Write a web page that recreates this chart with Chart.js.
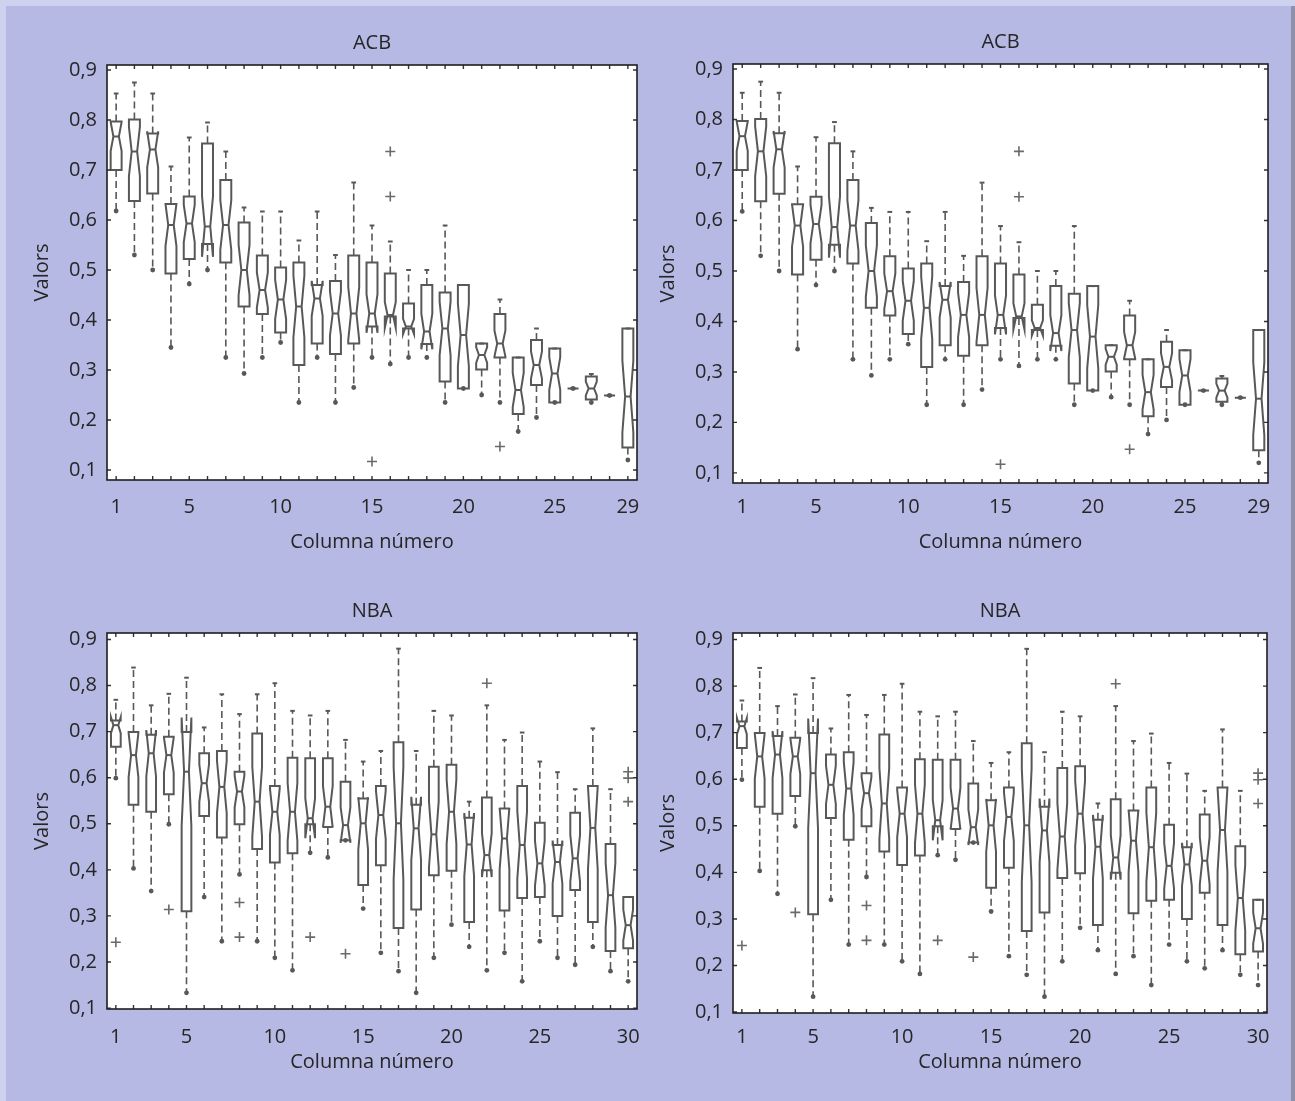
<!DOCTYPE html>
<html>
<head>
<meta charset="utf-8">
<script src="https://cdn.jsdelivr.net/npm/chart.js@4"></script>
<style>
  body {
    margin: 0;
    width: 1295px;
    height: 1101px;
    overflow: hidden;
    position: relative;
    background: #cfd2ee;
  }
  #bg {
    position: absolute;
    left: 6px;
    top: 6px;
    width: 1286px;
    height: 1095px;
    background: #b5b9e3;
  }
  #edge {
    position: absolute;
    left: 1291px;
    top: 6px;
    width: 4px;
    height: 1095px;
    background: #8f91ab;
  }
  canvas {
    position: absolute;
  }
</style>
</head>
<body>
<div id="bg"></div>
<div id="edge"></div>
<canvas id="acbLeft"></canvas>
<canvas id="acbRight"></canvas>
<canvas id="nbaLeft"></canvas>
<canvas id="nbaRight"></canvas>
<script>
// ..........................ACB (29 columns)...................
const acbHigh = [0.853, 0.875, 0.853, 0.707, 0.765, 0.795, 0.737, 0.625, 0.617, 0.617,
  0.559, 0.617, 0.53, 0.675, 0.589, 0.557, 0.5, 0.5, 0.589, 0.47,
  0.353, 0.441, 0.325, 0.383, 0.343, 0.263, 0.292, 0.249, 0.383];
const acbQ3 = [0.797, 0.801, 0.773, 0.632, 0.647, 0.753, 0.68, 0.595, 0.529, 0.505,
  0.515, 0.47, 0.478, 0.529, 0.515, 0.493, 0.433, 0.47, 0.455, 0.47,
  0.353, 0.412, 0.325, 0.36, 0.343, 0.263, 0.287, 0.249, 0.383];
const acbMedian = [0.767, 0.737, 0.741, 0.59, 0.593, 0.587, 0.59, 0.5, 0.46, 0.441,
  0.427, 0.443, 0.413, 0.413, 0.413, 0.41, 0.387, 0.377, 0.383, 0.37,
  0.33, 0.353, 0.26, 0.31, 0.293, 0.263, 0.263, 0.249, 0.247];
const acbQ1 = [0.7, 0.638, 0.653, 0.493, 0.522, 0.552, 0.515, 0.427, 0.412, 0.375,
  0.31, 0.353, 0.332, 0.353, 0.387, 0.407, 0.383, 0.352, 0.277, 0.263,
  0.301, 0.325, 0.212, 0.27, 0.235, 0.263, 0.241, 0.249, 0.145];
const acbLow = [0.618, 0.53, 0.5, 0.345, 0.472, 0.5, 0.325, 0.293, 0.325, 0.355,
  0.235, 0.325, 0.235, 0.265, 0.325, 0.312, 0.325, 0.325, 0.235, 0.263,
  0.25, 0.235, 0.177, 0.205, 0.235, 0.263, 0.235, 0.249, 0.12];
const acbOutlierCols = [15, 16, 16, 22];
const acbOutlierVals = [0.117, 0.737, 0.647, 0.147];
const acbTickLabels = [1, 5, 10, 15, 20, 25, 29];

// ..........................NBA (30 columns)...................
const nbaHigh = [0.769, 0.839, 0.757, 0.782, 0.817, 0.709, 0.781, 0.738, 0.781, 0.805,
  0.745, 0.735, 0.745, 0.682, 0.635, 0.658, 0.88, 0.658, 0.745, 0.735,
  0.548, 0.757, 0.682, 0.698, 0.635, 0.612, 0.575, 0.707, 0.575, 0.341];
const nbaQ3 = [0.724, 0.699, 0.693, 0.689, 0.699, 0.653, 0.658, 0.613, 0.696, 0.582,
  0.643, 0.642, 0.642, 0.591, 0.555, 0.582, 0.677, 0.541, 0.624, 0.628,
  0.513, 0.557, 0.533, 0.582, 0.502, 0.454, 0.524, 0.582, 0.456, 0.341];
const nbaMedian = [0.714, 0.649, 0.653, 0.649, 0.613, 0.588, 0.58, 0.57, 0.548, 0.526,
  0.526, 0.512, 0.537, 0.497, 0.501, 0.519, 0.501, 0.49, 0.477, 0.526,
  0.455, 0.432, 0.468, 0.454, 0.414, 0.417, 0.425, 0.491, 0.345, 0.28];
const nbaQ1 = [0.667, 0.541, 0.526, 0.564, 0.31, 0.517, 0.47, 0.499, 0.445, 0.416,
  0.436, 0.499, 0.493, 0.464, 0.367, 0.41, 0.274, 0.314, 0.388, 0.398,
  0.287, 0.399, 0.312, 0.339, 0.341, 0.3, 0.356, 0.287, 0.224, 0.23];
const nbaLow = [0.599, 0.403, 0.354, 0.499, 0.133, 0.341, 0.245, 0.39, 0.245, 0.209,
  0.182, 0.437, 0.427, 0.464, 0.316, 0.22, 0.18, 0.133, 0.209, 0.281,
  0.233, 0.182, 0.22, 0.158, 0.245, 0.209, 0.194, 0.233, 0.18, 0.158];
const nbaOutlierCols = [1, 4, 8, 8, 12, 14, 22, 30, 30, 30];
const nbaOutlierVals = [0.243, 0.314, 0.329, 0.254, 0.254, 0.218, 0.805, 0.613, 0.599, 0.548];
const nbaTickLabels = [1, 5, 10, 15, 20, 25, 30];

const yTickValues = [0.1, 0.2, 0.3, 0.4, 0.5, 0.6, 0.7, 0.8, 0.9];

const textColor = "#262626";
const boxColor = "#585858";
const notchN = 27;

Chart.defaults.font.family = "'Open Sans', sans-serif";
Chart.defaults.font.size = 20;
Chart.defaults.color = textColor;

// draws the white plot area, the notched boxes, the frame and the inward tick marks
function boxPlotPlugin(stats, boxWidth) {
  return {
    id: "boxPlot",
    beforeDatasetsDraw(chart) {
      const ctx = chart.ctx;
      const area = chart.chartArea;
      ctx.save();
      ctx.fillStyle = "#ffffff";
      ctx.fillRect(area.left, area.top, area.right - area.left, area.bottom - area.top);
      ctx.restore();
    },
    afterDatasetsDraw(chart) {
      const ctx = chart.ctx;
      const x = chart.scales.x;
      const y = chart.scales.y;
      ctx.save();
      ctx.strokeStyle = boxColor;
      ctx.fillStyle = boxColor;
      stats.median.forEach((med, i) => {
        const col = i + 1;
        const cx = x.getPixelForValue(col);
        const left = x.getPixelForValue(col - boxWidth / 2);
        const right = x.getPixelForValue(col + boxWidth / 2);
        const innerL = x.getPixelForValue(col - boxWidth / 4);
        const innerR = x.getPixelForValue(col + boxWidth / 4);
        const notch = (1.57 * (stats.q3[i] - stats.q1[i])) / Math.sqrt(notchN);

        const pHigh = y.getPixelForValue(stats.high[i]);
        const pQ3 = y.getPixelForValue(stats.q3[i]);
        const pMed = y.getPixelForValue(med);
        const pQ1 = y.getPixelForValue(stats.q1[i]);
        const pLow = y.getPixelForValue(stats.low[i]);
        const pNhi = y.getPixelForValue(med + notch);
        const pNlo = y.getPixelForValue(med - notch);

        // whiskers
        ctx.lineWidth = 1.6;
        ctx.setLineDash([7, 4]);
        ctx.beginPath();
        ctx.moveTo(cx, pQ3);
        ctx.lineTo(cx, pHigh);
        ctx.moveTo(cx, pQ1);
        ctx.lineTo(cx, pLow);
        ctx.stroke();
        ctx.setLineDash([]);

        ctx.lineWidth = 2;
        ctx.beginPath();
        ctx.moveTo(x.getPixelForValue(col - 0.13), pHigh);
        ctx.lineTo(x.getPixelForValue(col + 0.13), pHigh);
        ctx.stroke();
        ctx.beginPath();
        ctx.arc(cx, pLow, 2.4, 0, Math.PI * 2);
        ctx.fill();

        // notched box
        ctx.lineWidth = 2;
        ctx.beginPath();
        ctx.moveTo(left, pQ1);
        ctx.lineTo(left, pNlo);
        ctx.lineTo(innerL, pMed);
        ctx.lineTo(left, pNhi);
        ctx.lineTo(left, pQ3);
        ctx.lineTo(right, pQ3);
        ctx.lineTo(right, pNhi);
        ctx.lineTo(innerR, pMed);
        ctx.lineTo(right, pNlo);
        ctx.lineTo(right, pQ1);
        ctx.closePath();
        ctx.stroke();

        ctx.beginPath();
        ctx.moveTo(innerL, pMed);
        ctx.lineTo(innerR, pMed);
        ctx.stroke();
      });
      ctx.restore();
    },
    afterDraw(chart) {
      const ctx = chart.ctx;
      const area = chart.chartArea;
      const x = chart.scales.x;
      const y = chart.scales.y;
      const tick = 4;
      ctx.save();
      ctx.strokeStyle = "#333";
      ctx.lineWidth = 1.4;
      ctx.beginPath();
      stats.median.forEach((m, i) => {
        const px = x.getPixelForValue(i + 1);
        ctx.moveTo(px, area.bottom);
        ctx.lineTo(px, area.bottom - tick);
        ctx.moveTo(px, area.top);
        ctx.lineTo(px, area.top + tick);
      });
      yTickValues.forEach((v) => {
        const py = y.getPixelForValue(v);
        ctx.moveTo(area.left, py);
        ctx.lineTo(area.left + tick, py);
        ctx.moveTo(area.right, py);
        ctx.lineTo(area.right - tick, py);
      });
      ctx.stroke();
      ctx.strokeStyle = "#1e1e1e";
      ctx.lineWidth = 1.6;
      ctx.strokeRect(area.left, area.top, area.right - area.left, area.bottom - area.top);
      ctx.restore();
    },
  };
}

function createPanel(canvasId, place, title, stats, outCols, outVals, tickLabels, yMin, yMax) {
  const columns = stats.median.length;
  const canvas = document.getElementById(canvasId);
  canvas.width = 100 + place.width + 20;
  canvas.height = 60 + place.height + 80;
  canvas.style.left = place.left - 100 + "px";
  canvas.style.top = place.top - 60 + "px";

  const config = {
    type: "scatter",
    data: {
      datasets: [
        {
          data: outCols.map((c, i) => ({ x: c, y: outVals[i] })),
          pointStyle: "cross",
          pointRadius: 5,
          borderColor: "#6a6a6a",
          borderWidth: 1.6,
        },
      ],
    },
    options: {
      responsive: false,
      animation: false,
      layout: { padding: { left: 0, right: 20, top: 0, bottom: 0 } },
      plugins: {
        legend: { display: false },
        tooltip: { enabled: false },
        title: {
          display: true,
          text: title,
          fullSize: false,
          color: textColor,
          font: { size: 20, weight: "normal" },
          padding: { top: 26, bottom: 10 },
        },
      },
      scales: {
        x: {
          type: "linear",
          min: 0.5,
          max: columns + 0.5,
          afterBuildTicks: (axis) => {
            axis.ticks = tickLabels.map((v) => ({ value: v }));
          },
          afterFit: (axis) => {
            axis.height = 80;
          },
          grid: { display: false, drawTicks: false },
          border: { display: false },
          ticks: {
            autoSkip: false,
            maxRotation: 0,
            padding: place.tickPad,
            color: textColor,
            callback: (v) => String(v),
          },
          title: {
            display: true,
            text: "Columna número",
            color: textColor,
            padding: { top: 0, bottom: place.titlePad },
          },
        },
        y: {
          min: yMin,
          max: yMax,
          afterBuildTicks: (axis) => {
            axis.ticks = yTickValues.map((v) => ({ value: v }));
          },
          afterFit: (axis) => {
            axis.width = 100;
          },
          grid: { display: false, drawTicks: false },
          border: { display: false },
          ticks: {
            padding: 10,
            color: textColor,
            callback: (v) => v.toFixed(1).replace(".", ","),
          },
          title: {
            display: true,
            text: "Valors",
            color: textColor,
            padding: { top: 23, bottom: 0 },
          },
        },
      },
    },
    plugins: [boxPlotPlugin(stats, place.boxWidth)],
  };
  return new Chart(canvas, config);
}

const acbStats = { high: acbHigh, q3: acbQ3, median: acbMedian, q1: acbQ1, low: acbLow };
const nbaStats = { high: nbaHigh, q3: nbaQ3, median: nbaMedian, q1: nbaQ1, low: nbaLow };

createPanel("acbLeft", { left: 107, top: 65, width: 530, height: 415, tickPad: 15, titlePad: 6, boxWidth: 0.6 },
  "ACB", acbStats, acbOutlierCols, acbOutlierVals, acbTickLabels, 0.08, 0.91);
createPanel("acbRight", { left: 733, top: 64, width: 535, height: 419, tickPad: 12, titlePad: 9, boxWidth: 0.6 },
  "ACB", acbStats, acbOutlierCols, acbOutlierVals, acbTickLabels, 0.08, 0.91);
createPanel("nbaLeft", { left: 107, top: 633, width: 530, height: 376, tickPad: 16, titlePad: 15, boxWidth: 0.55 },
  "NBA", nbaStats, nbaOutlierCols, nbaOutlierVals, nbaTickLabels, 0.098, 0.914);
createPanel("nbaRight", { left: 733, top: 633, width: 534, height: 380, tickPad: 12, titlePad: 19, boxWidth: 0.55 },
  "NBA", nbaStats, nbaOutlierCols, nbaOutlierVals, nbaTickLabels, 0.098, 0.914);
</script>
</body>
</html>
